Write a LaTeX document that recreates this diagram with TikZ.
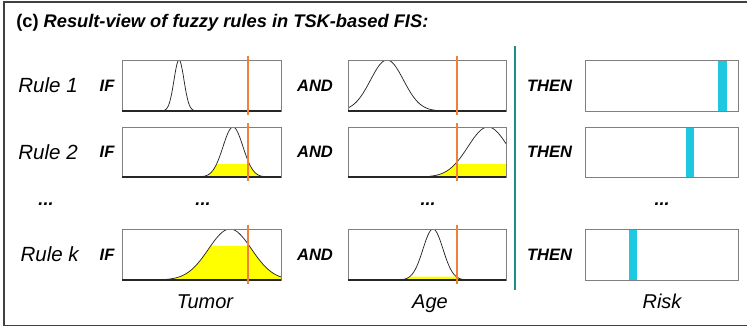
\documentclass[tikz,border=0pt]{standalone}
\usepackage{fontspec}
\setmainfont{Liberation Sans}
\begin{document}
\begin{tikzpicture}[x=0.75pt,y=-0.75pt,
  framestyle/.style={draw=black!75,line width=1.3pt},
  boxline/.style={draw=black!50,line width=0.6pt},
  baseline/.style={draw=black!85,line width=0.9pt},
  mfcurve/.style={draw=black!85,line width=0.55pt},
  inputline/.style={draw=inorange,line width=1.5pt},
  fuzzyfill/.style={fill=fuzzyyellow},
  outbar/.style={fill=outcyan},
  rulelbl/.style={font=\itshape\fontsize{15.4}{17}\selectfont,anchor=east,inner sep=0pt},
  kwlbl/.style={font=\bfseries\itshape\fontsize{12.4}{14}\selectfont,inner sep=0pt},
  axislbl/.style={font=\itshape\fontsize{15}{17}\selectfont,anchor=base,inner sep=0pt},
  dotslbl/.style={font=\bfseries\itshape\fontsize{13.5}{15}\selectfont,anchor=base,inner sep=0pt}]
\definecolor{inorange}{HTML}{F0803A}
\definecolor{fuzzyyellow}{HTML}{FFFF00}
\definecolor{outcyan}{HTML}{1EC8E0}
\definecolor{divteal}{HTML}{1B8F85}

% membership-function panel:
% #1 left, #2 top, #3 right, #4 bottom, #5 centre, #6 spread, #7 firing level, #8 input value
\newcommand\mfpanel[8]{%
  \pgfmathsetmacro\dl{max(#1,#5-4.5*#6)}%
  \pgfmathsetmacro\dr{min(#3,#5+4.5*#6)}%
  \begin{scope}
    \clip (#1,#2) rectangle (#3,#4);
    \fill[fuzzyfill] (\dl,#4) -- plot[domain=\dl:\dr,samples=80]
      (\x,{#4-(#4-#2)*min(exp(-0.5*((\x-#5)/#6)^2),#7)}) -- (\dr,#4) -- cycle;
    \draw[mfcurve] plot[domain=\dl:\dr,samples=100,smooth]
      (\x,{#4-(#4-#2)*exp(-0.5*((\x-#5)/#6)^2)});
  \end{scope}
  \draw[boxline] (#1,#2) rectangle (#3,#4);
  \draw[baseline] (#1,#4) -- (#3,#4);
  \draw[inputline] (#8,#2-4) -- (#8,#4+4);
}

\path[use as bounding box,clip] (0,0) rectangle (747,329);
\fill[white] (0,0) rectangle (747,329);

% outer frame (open towards the right)
\draw[framestyle] (780,1.8) -- (4,1.8) -- (4,325.5) -- (780,325.5);

% title
\node[anchor=base west,inner sep=0pt,font=\bfseries\fontsize{13.7}{15}\selectfont] (title) at (16,27)
  {(c)\ \textit{Result-view of fuzzy rules in TSK-based FIS:}};

% rule labels
\node[rulelbl] (r1) at (78,85.5) {Rule 1};
\node[rulelbl] (r2) at (78,152) {Rule 2};
\node[rulelbl] (rk) at (79,254.5) {Rule k};
\node[dotslbl] (d0) at (46,205) {...};

\node[kwlbl] (if1) at (107,85.5) {IF};
\node[kwlbl] (if2) at (107,152) {IF};
\node[kwlbl] (ifk) at (107,254.5) {IF};
\node[kwlbl] (and1) at (315,85.5) {AND};
\node[kwlbl] (and2) at (315,152) {AND};
\node[kwlbl] (andk) at (315,254.5) {AND};
\node[kwlbl] (then1) at (549.5,85.5) {THEN};
\node[kwlbl] (then2) at (549.5,152) {THEN};
\node[kwlbl] (thenk) at (549.5,254.5) {THEN};

% Tumor panels
\mfpanel{122}{60}{281}{111}{179}{5}{0}{248}
\mfpanel{122}{127}{281}{177}{233}{10}{0.26}{248}
\mfpanel{122}{229}{281}{280}{230}{21.5}{0.67}{248}
% Age panels
\mfpanel{348}{60}{506}{111}{387}{16.5}{0}{457}
\mfpanel{348}{127}{506}{177}{488}{20}{0.26}{457}
\mfpanel{348}{229}{506}{280}{433}{10}{0.065}{457}

% Risk panels with crisp consequents
\fill[outbar] (718,60) rectangle (727,111);
\draw[boxline] (585,60) rectangle (738,111);
\fill[outbar] (686,127) rectangle (694,177);
\draw[boxline] (585,127) rectangle (738,177);
\fill[outbar] (629,229) rectangle (637,280);
\draw[boxline] (585,229) rectangle (738,280);

% divider between antecedents and consequents
\draw[draw=divteal,line width=1.5pt] (515,46) -- (515,290);

% ellipsis row
\node[dotslbl] (d1) at (203,205) {...};
\node[dotslbl] (d2) at (428,205) {...};
\node[dotslbl] (d3) at (662,205) {...};

% axis names
\node[axislbl] (tumor) at (205,308) {Tumor};
\node[axislbl] (age) at (430,308) {Age};
\node[axislbl] (risk) at (662,308) {Risk};
\end{tikzpicture}
\end{document}
